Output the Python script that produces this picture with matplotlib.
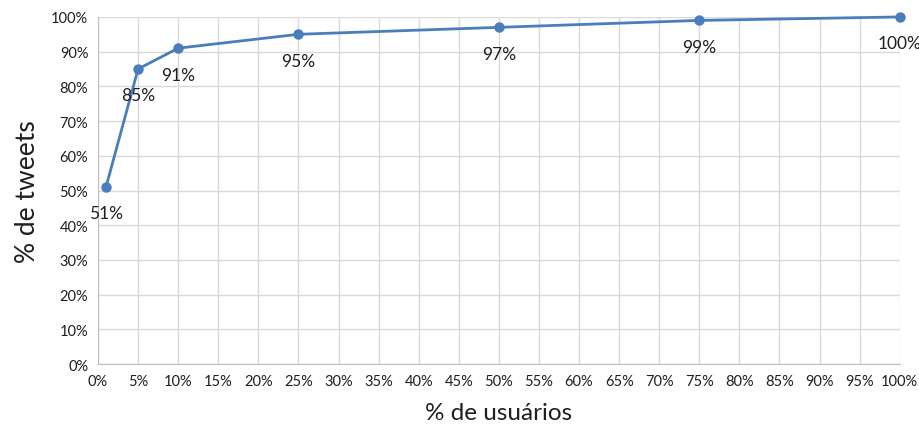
import matplotlib.pyplot as plt
from matplotlib.ticker import MultipleLocator, FuncFormatter

plt.rcParams['font.family'] = ['Lato', 'DejaVu Sans']

# Distribuição acumulada: % de usuários x % de tweets
usuarios = [1, 5, 10, 25, 50, 75, 100]
tweets = [51, 85, 91, 95, 97, 99, 100]
rotulos = ['51%', '85%', '91%', '95%', '97%', '99%', '100%']

fig = plt.figure(figsize=(9.2, 4.27), dpi=100)
ax = fig.add_axes([0.1065, 0.145, 0.8715, 0.813])

ax.plot(usuarios, tweets, color='#4a7ebb', linewidth=2, marker='o',
        markersize=6.5, zorder=3, clip_on=False)

for x, y, t in zip(usuarios, tweets, rotulos):
    ax.annotate(t, xy=(x, y), xytext=(0, -19), textcoords='offset points',
                ha='center', va='center', fontsize=12.5, color='#1f1f1f')

ax.set_xlim(0, 100)
ax.set_ylim(0, 100)
ax.xaxis.set_major_locator(MultipleLocator(5))
ax.yaxis.set_major_locator(MultipleLocator(10))
pct = FuncFormatter(lambda v, _: f'{v:.0f}%')
ax.xaxis.set_major_formatter(pct)
ax.yaxis.set_major_formatter(pct)
ax.tick_params(length=0, labelsize=10.5, colors='#1f1f1f', pad=7)

ax.grid(True, color='#d9d9d9', linewidth=1)
ax.set_axisbelow(True)
for lado in ['top', 'right']:
    ax.spines[lado].set_visible(False)
for lado in ['left', 'bottom']:
    ax.spines[lado].set_color('#bfbfbf')

ax.set_xlabel('% de usuários', fontsize=17.5, color='#1f1f1f', labelpad=10)
ax.set_ylabel('% de tweets', fontsize=19, color='#1f1f1f', labelpad=8)

fig.savefig('out.png', dpi=100)
